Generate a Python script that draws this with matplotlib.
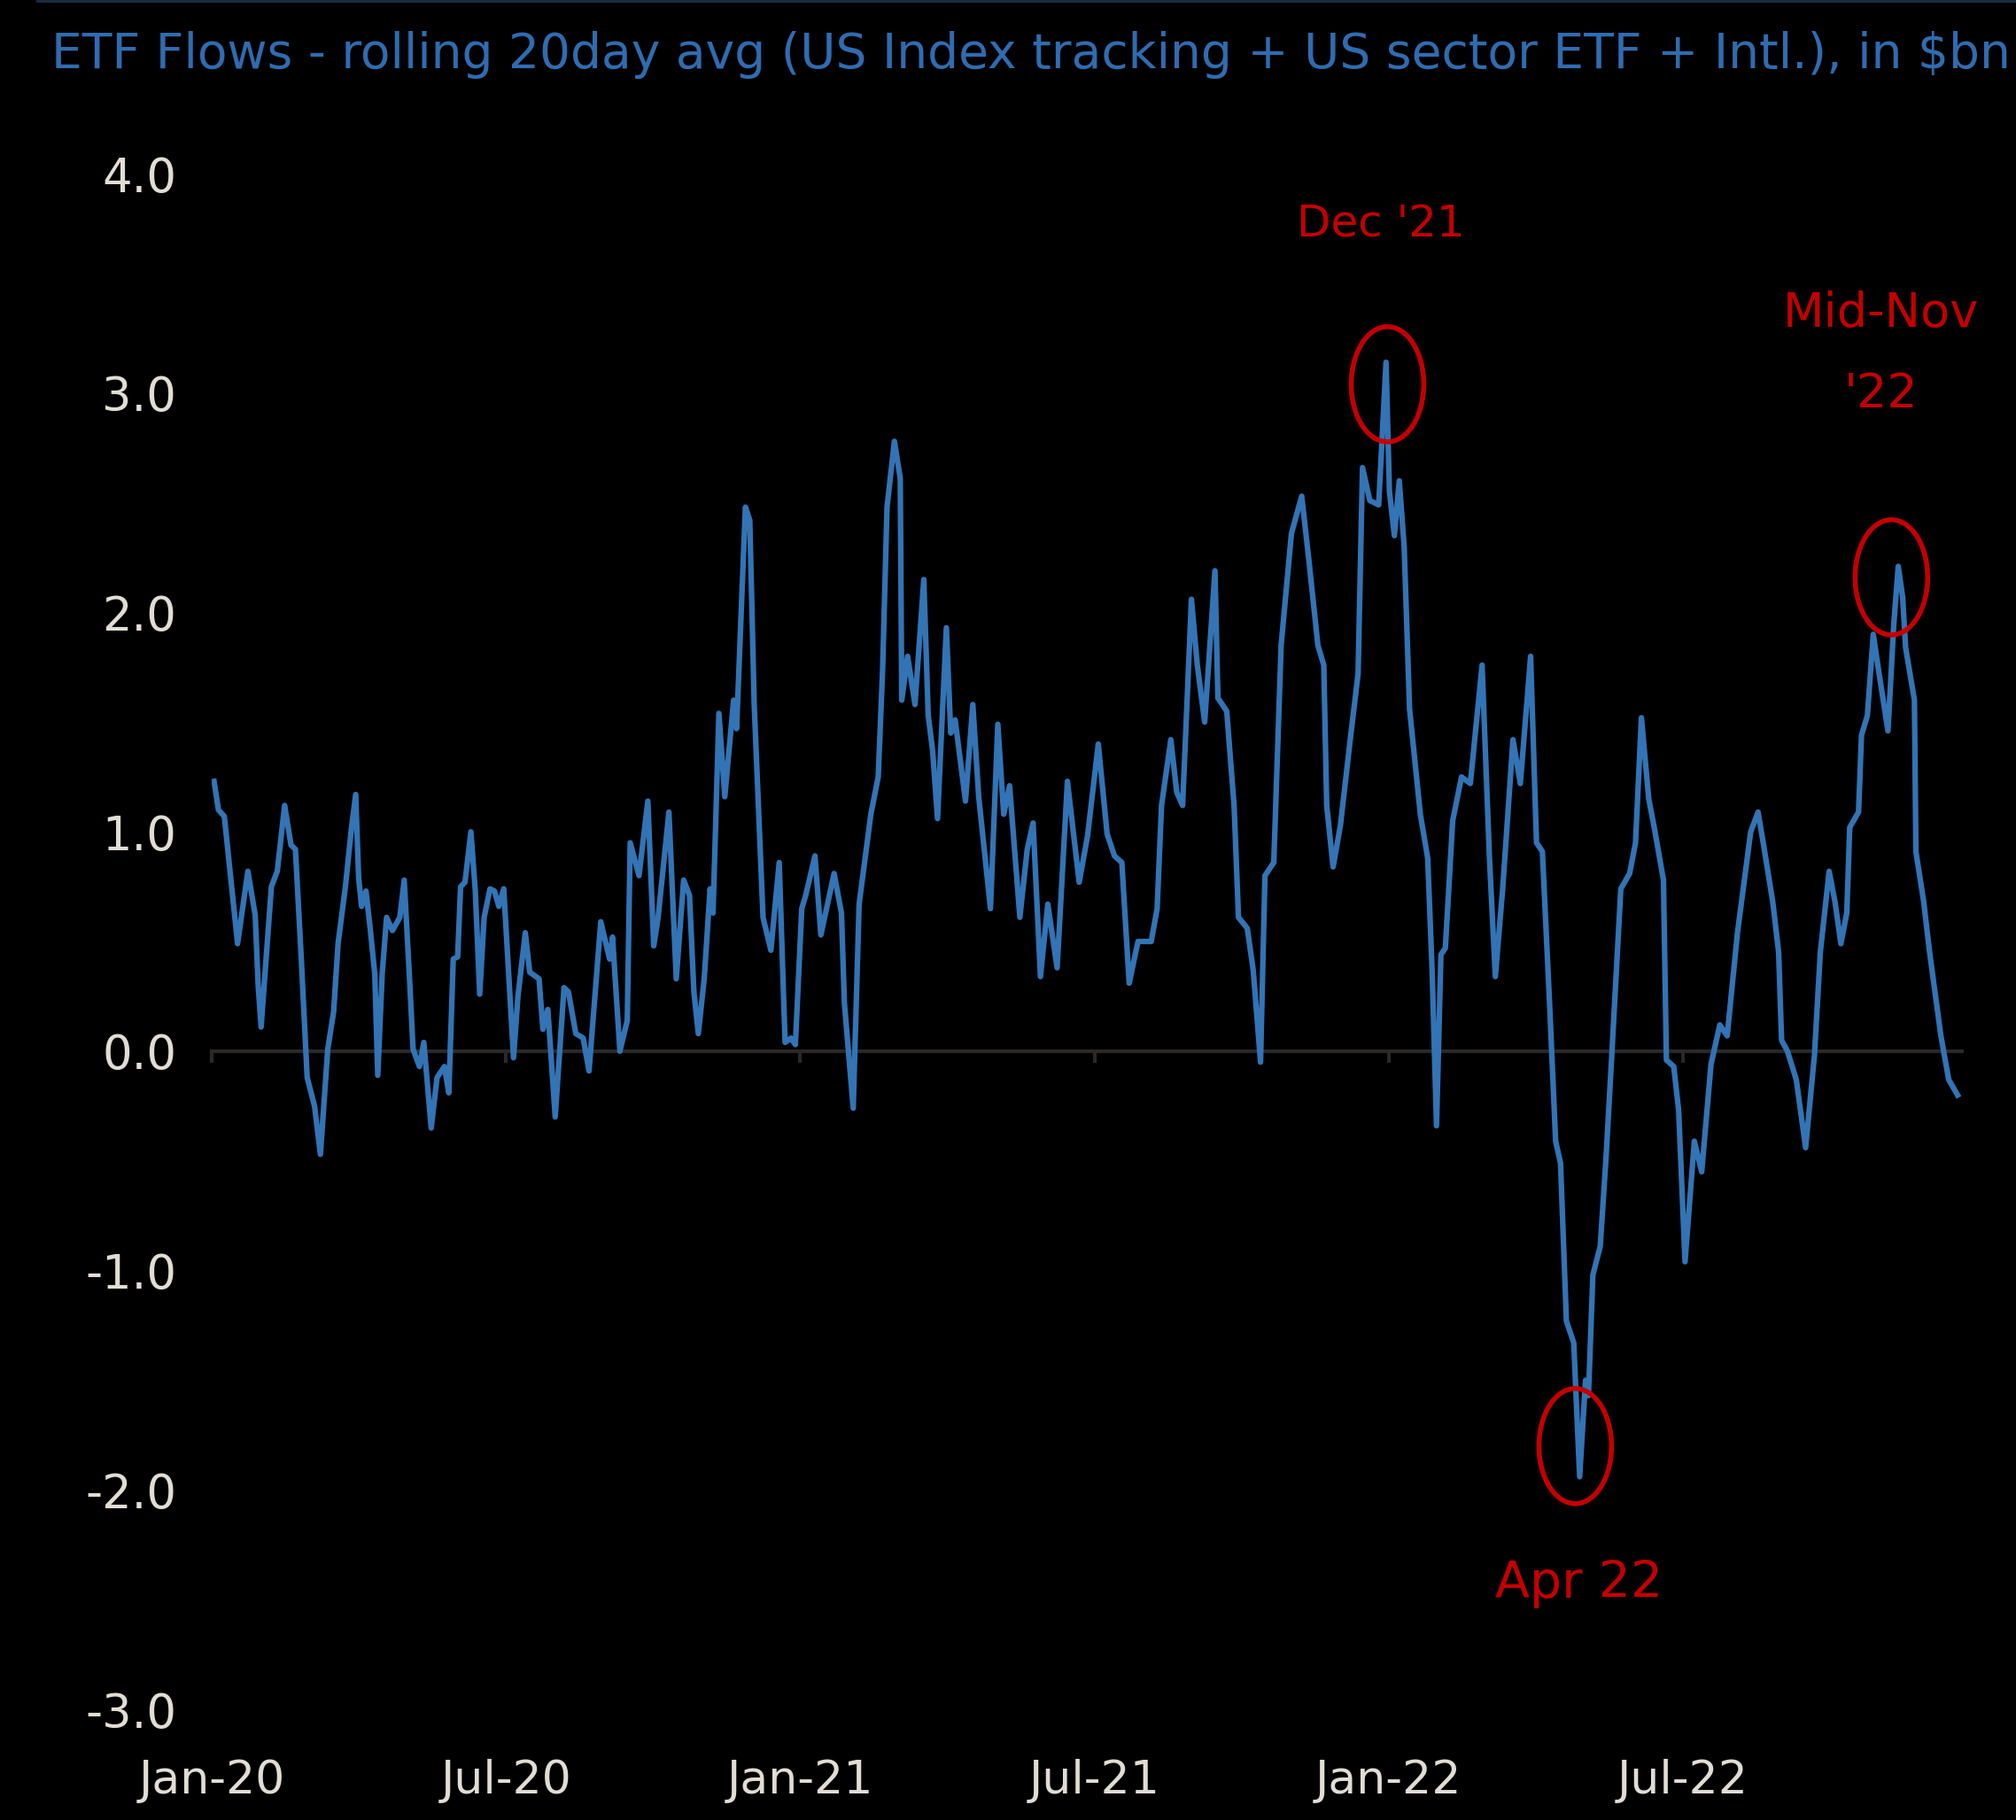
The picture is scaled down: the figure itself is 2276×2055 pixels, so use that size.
# ETF flows - rolling 20 day average chart

import numpy as np
import matplotlib
matplotlib.use('Agg')
from matplotlib import pyplot as plt
from matplotlib.patches import Ellipse
from matplotlib.lines import Line2D

# position along the time axis, in months since Jan 2020
months = [0.04, 0.13, 0.25, 0.40, 0.52, 0.73, 0.88, 0.94, 1.00, 1.21, 1.33, 1.48, 1.61, 1.70,
          1.82, 1.94, 2.09, 2.21, 2.36, 2.48, 2.57, 2.72, 2.84, 2.93, 2.99, 3.05, 3.14, 3.23,
          3.32, 3.38, 3.47, 3.56, 3.68, 3.83, 3.92, 4.04, 4.10, 4.23, 4.32, 4.47, 4.59, 4.74,
          4.83, 4.92, 5.01, 5.07, 5.16, 5.28, 5.37, 5.46, 5.55, 5.67, 5.76, 5.85, 5.95,
          6.15, 6.24, 6.39, 6.48, 6.67, 6.75, 6.85, 7.00, 7.18, 7.27, 7.42, 7.57, 7.69, 7.93,
          8.11, 8.17, 8.32, 8.47, 8.53, 8.71, 8.89, 9.01, 9.10, 9.32, 9.47, 9.62, 9.74, 9.83,
          9.92, 10.04, 10.16, 10.22, 10.34, 10.46, 10.64, 10.70, 10.88, 10.97, 11.06, 11.15,
          11.24, 11.40, 11.57, 11.69, 11.81, 11.90, 12.03,
          12.11, 12.30, 12.42, 12.69, 12.84, 12.90, 13.08, 13.20, 13.44, 13.59, 13.68, 13.77,
          13.92, 14.04, 14.07, 14.19, 14.34, 14.52, 14.61, 14.70, 14.80, 14.98, 15.07, 15.16,
          15.37, 15.52, 15.64, 15.88, 16.03, 16.15, 16.27, 16.48, 16.63, 16.75, 16.90, 17.05,
          17.24, 17.45, 17.69, 17.86, 18.08,
          18.26, 18.41, 18.56, 18.71, 18.89, 19.16, 19.28, 19.37, 19.56, 19.68, 19.80, 19.98,
          20.10, 20.25, 20.46, 20.52, 20.70, 20.85, 20.94, 21.12, 21.24, 21.39, 21.48, 21.66,
          21.81, 22.02, 22.23, 22.38, 22.56, 22.68, 22.74, 22.87, 23.02, 23.23, 23.38, 23.47,
          23.62, 23.80, 23.95, 24.02, 24.12, 24.22, 24.32, 24.43,
          24.65, 24.80, 24.89, 24.98, 25.07, 25.16, 25.31, 25.49, 25.67, 25.91, 26.06, 26.18,
          26.33, 26.54, 26.69, 26.90, 27.02, 27.14, 27.29, 27.41, 27.51, 27.63, 27.78, 27.90,
          28.02, 28.08, 28.17, 28.32, 28.44, 28.56, 28.74, 28.92, 29.04, 29.16, 29.31, 29.43,
          29.61, 29.67, 29.82, 29.92, 30.05,
          30.24, 30.39, 30.58, 30.76, 30.91, 31.12, 31.39, 31.54, 31.66, 31.84, 31.96, 32.02,
          32.14, 32.32, 32.51, 32.69, 32.81, 32.99, 33.11, 33.23, 33.35, 33.41, 33.59, 33.65,
          33.77, 33.89, 34.01, 34.19, 34.31, 34.40, 34.49, 34.55, 34.73, 34.76, 34.92, 35.04,
          35.27, 35.43, 35.61]

# flows in $bn
flows = [1.23, 1.10, 1.07, 0.75, 0.49, 0.82, 0.62, 0.30, 0.11, 0.75, 0.82, 1.12, 0.94, 0.92,
         0.42, -0.12, -0.25, -0.47, 0.01, 0.18, 0.49, 0.75, 1.01, 1.17, 0.79, 0.66, 0.73, 0.55,
         0.35, -0.11, 0.35, 0.61, 0.55, 0.61, 0.78, 0.28, 0.01, -0.07, 0.04, -0.35, -0.12, -0.07,
         -0.19, 0.42, 0.43, 0.75, 0.77, 1.00, 0.73, 0.26, 0.61, 0.74, 0.73, 0.66, 0.74,
         -0.03, 0.25, 0.54, 0.36, 0.33, 0.10, 0.19, -0.30, 0.29, 0.27, 0.08, 0.06, -0.09, 0.59,
         0.42, 0.52, 0.00, 0.14, 0.95, 0.80, 1.14, 0.48, 0.61, 1.09, 0.33, 0.78, 0.71, 0.27,
         0.08, 0.33, 0.74, 0.63, 1.54, 1.16, 1.60, 1.47, 2.48, 2.42, 1.58, 1.09,
         0.61, 0.46, 0.86, 0.04, 0.06, 0.03, 0.65,
         0.71, 0.89, 0.53, 0.81, 0.63, 0.22, -0.26, 0.67, 1.08, 1.25, 1.74, 2.48,
         2.78, 2.61, 1.60, 1.80, 1.58, 2.15, 1.53, 1.37, 1.06, 1.93, 1.45, 1.51,
         1.14, 1.58, 1.16, 0.65, 1.49, 1.08, 1.21, 0.61, 0.92, 1.04, 0.34, 0.67,
         0.38, 1.23, 0.77, 0.98, 1.40,
         0.99, 0.89, 0.86, 0.31, 0.50, 0.50, 0.65, 1.12, 1.42, 1.18, 1.12, 2.06,
         1.76, 1.50, 2.19, 1.61, 1.55, 1.12, 0.61, 0.56, 0.37, -0.05, 0.80, 0.86,
         1.85, 2.36, 2.53, 2.23, 1.85, 1.76, 1.12, 0.84, 1.03, 1.44, 1.72, 2.66,
         2.51, 2.49, 3.14, 2.55, 2.35, 2.60, 2.30, 1.56,
         1.08, 0.88, 0.37, -0.34, 0.44, 0.47, 1.05, 1.25, 1.22, 1.76, 0.88, 0.34,
         0.74, 1.42, 1.22, 1.80, 0.95, 0.91, 0.20, -0.41, -0.51, -1.23, -1.33, -1.94,
         -1.50, -1.57, -1.02, -0.89, -0.48, 0.00, 0.74, 0.81, 0.95, 1.52, 1.15, 1.01,
         0.78, -0.04, -0.07, -0.27, -0.96,
         -0.41, -0.55, -0.06, 0.12, 0.07, 0.54, 1.00, 1.09, 0.93, 0.68, 0.45, 0.05,
         0.00, -0.13, -0.44, -0.02, 0.45, 0.82, 0.68, 0.49, 0.63, 1.02, 1.09, 1.44,
         1.53, 1.90, 1.72, 1.46, 1.95, 2.21, 2.07, 1.84, 1.60, 0.91, 0.68, 0.45,
         0.07, -0.13, -0.20]

tick_pos = [0, 6, 12, 18, 24, 30]
tick_labels = ['Jan-20', 'Jul-20', 'Jan-21', 'Jul-21', 'Jan-22', 'Jul-22']
y_ticks = [-3, -2, -1, 0, 1, 2, 3, 4]

title = 'ETF Flows - rolling 20day avg (US Index tracking + US sector ETF + Intl.), in \\$bn'

callout_text = ["Dec '21", 'Apr 22', "Mid-Nov\n'22"]
callout_x = [23.84, 27.89, 34.04]
callout_y = [3.77, -2.43, 3.18]
callout_size = [36, 41, 39]

plt.rcParams['font.family'] = ['DejaVu Sans']

line_col = '#3274b5'
red = '#c40000'
label_col = '#e2ddd4'
axis_col = '#2b2927'

fig = plt.figure(figsize=(22.76, 20.55), dpi=100, facecolor='black')
ax = fig.add_axes([0.1052, 0.0608, 0.868, 0.8438])
ax.set_facecolor('black')

m = np.array(months)
f = np.array(flows)
ax.plot(m, f, color=line_col, lw=4.5, solid_joinstyle='round', zorder=3)

ax.set_xlim(0, 35.7)
ax.set_ylim(-3, 4)

# zero line carries the small tick marks
for side in ['top', 'right', 'left']:
    ax.spines[side].set_visible(False)
ax.spines['bottom'].set_position(('data', 0))
ax.spines['bottom'].set_color(axis_col)
ax.spines['bottom'].set_linewidth(3)
ax.set_xticks(tick_pos)
ax.tick_params(axis='x', direction='out', length=9, width=3, color=axis_col, labelbottom=False)

ax.set_yticks(y_ticks)
ax.set_yticklabels(['%.1f' % v for v in y_ticks])
ax.tick_params(axis='y', length=0, pad=29, labelsize=38, labelcolor=label_col)

# date labels sit at the bottom of the plot, not on the zero line
sec = ax.secondary_xaxis('bottom')
sec.set_xticks(tick_pos)
sec.set_xticklabels(tick_labels)
sec.tick_params(length=0, pad=40, labelsize=37.5, labelcolor=label_col)
sec.spines['bottom'].set_visible(False)

# red circles around the extremes
i_dec = int(np.argmax(np.where(m < 30, f, -9)))
i_apr = int(np.argmin(f))
i_nov = int(np.argmax(np.where(m > 30, f, -9)))
for i, dx, dy in [(i_dec, 0.03, -0.10), (i_apr, -0.09, 0.14), (i_nov, -0.14, -0.05)]:
    ax.add_patch(Ellipse((m[i] + dx, f[i] + dy), 1.48, 0.525, fill=False,
                         edgecolor=red, lw=4, zorder=4))

for txt, x, y, s in zip(callout_text, callout_x, callout_y, callout_size):
    ax.text(x, y, txt, color=red, fontsize=s, ha='center', va='center',
            linespacing=1.95, zorder=5)

fig.text(0.0255, 0.970, title, color='#2f6cb0', fontsize=39.7, ha='left', va='center')
fig.add_artist(Line2D([0.019, 1.0], [0.9993, 0.9993], color='#1b2a40', lw=3))

plt.savefig('out.png', dpi=100, facecolor='black')
